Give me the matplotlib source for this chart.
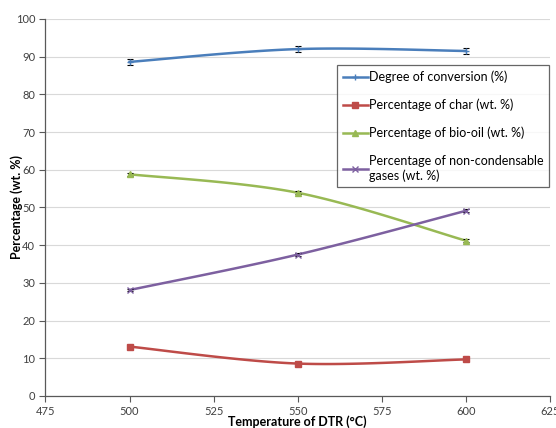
import numpy as np
import matplotlib
matplotlib.use("Agg")
import matplotlib.pyplot as plt

plt.rcParams['font.family'] = ['Lato', 'DejaVu Sans']

temperature = [500, 550, 600]
conversion = [88.6, 92.0, 91.5]
conversion_err = [0.8, 0.9, 0.7]
char = [13.1, 8.6, 9.7]
char_err = [0.3, 0.3, 0.3]
bio_oil = [58.8, 53.9, 41.2]
bio_oil_err = [0.4, 0.4, 0.4]
gases = [28.1, 37.5, 49.1]
gases_err = [0.3, 0.3, 0.4]

labels = ["Degree of conversion (%)", "Percentage of char (wt. %)",
          "Percentage of bio-oil (wt. %)",
          "Percentage of non-condensable\ngases (wt. %)"]
colors = ["#4a7ebb", "#be4b48", "#98b954", "#7d60a0"]
markers = ["+", "s", "^", "x"]
x_ticks = [475, 500, 525, 550, 575, 600, 625]
y_ticks = list(range(0, 101, 10))


def smooth(x, y, n=40):
    # Bezier smoothing through the points (Catmull-Rom style control points)
    x = np.asarray(x, float)
    y = np.asarray(y, float)
    pts = np.column_stack([x, y])
    out = []
    for i in range(len(pts) - 1):
        p0 = pts[i - 1] if i > 0 else pts[i]
        p1 = pts[i]
        p2 = pts[i + 1]
        p3 = pts[i + 2] if i + 2 < len(pts) else pts[i + 1]
        c1 = p1 + (p2 - p0) / 6
        c2 = p2 - (p3 - p1) / 6
        t = np.linspace(0, 1, n)[:, None]
        seg = ((1 - t) ** 3) * p1 + 3 * ((1 - t) ** 2) * t * c1 + 3 * (1 - t) * t ** 2 * c2 + t ** 3 * p2
        out.append(seg)
    seg = np.vstack(out)
    return seg[:, 0], seg[:, 1]


fig = plt.figure(figsize=(5.56, 4.28), dpi=100)
ax = fig.add_axes([0.0818, 0.0748, 0.907, 0.881])

series = [(conversion, conversion_err), (char, char_err),
          (bio_oil, bio_oil_err), (gases, gases_err)]
handles = []
for (vals, errs), c, m, lab in zip(series, colors, markers, labels):
    sx, sy = smooth(temperature, vals)
    ax.plot(sx, sy, color=c, lw=1.8, zorder=3)
    ax.errorbar(temperature, vals, yerr=errs, fmt='none', ecolor='black',
                elinewidth=0.8, capsize=2.2, capthick=0.8, zorder=4)
    ax.plot(temperature, vals, linestyle='none', marker=m, color=c,
            markersize=5, markeredgewidth=1.0, zorder=5)
    h, = ax.plot([], [], color=c, lw=1.8, marker=m, markersize=4,
                 markeredgewidth=1.0, label=lab)
    handles.append(h)

ax.set_xlim(475, 625)
ax.set_ylim(0, 100)
ax.set_xticks(x_ticks)
ax.set_yticks(y_ticks)
ax.tick_params(axis='both', labelsize=8, colors='#595959', direction='out',
               length=4, width=0.8, labelcolor='#404040')
ax.tick_params(axis='x', pad=3)
ax.yaxis.grid(True, color='#d9d9d9', lw=0.8)
ax.set_axisbelow(True)
for s in ('top', 'right'):
    ax.spines[s].set_visible(False)
for s in ('left', 'bottom'):
    ax.spines[s].set_color('#595959')
    ax.spines[s].set_linewidth(0.9)

ax.set_xlabel("Temperature of DTR (°C)", fontsize=9, fontweight='bold',
              va='center')
ax.xaxis.set_label_coords(0.5, -0.069)
ax.set_ylabel("Percentage (wt. %)", fontsize=9, fontweight='bold',
              va='center')
ax.yaxis.set_label_coords(-0.057, 0.5)

leg = ax.legend(handles=handles, loc='upper left', bbox_to_anchor=(0.578, 0.878),
                fontsize=9, frameon=True, fancybox=False, handlelength=2.0,
                handletextpad=0.1, labelspacing=1.25, borderpad=0.45,
                borderaxespad=0)
leg.get_frame().set_edgecolor('#404040')
leg.get_frame().set_linewidth(0.9)

fig.savefig("out.png", dpi=100)
